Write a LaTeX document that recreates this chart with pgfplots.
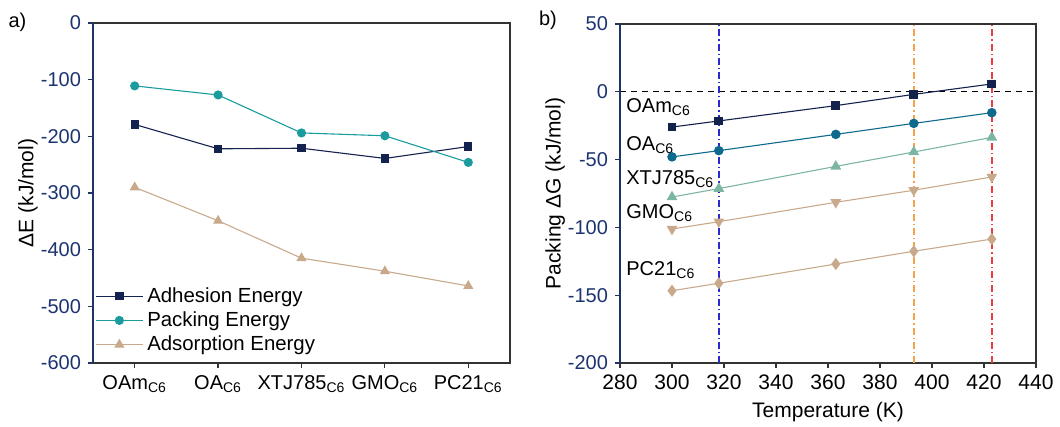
\documentclass[border=0pt]{standalone}
\usepackage{fontspec}
\setmainfont{Liberation Sans}
\usepackage{pgfplots}
\pgfplotsset{compat=1.18}

\definecolor{axgray}{HTML}{333333}
\definecolor{navyax}{HTML}{1F3466}
\definecolor{navytxt}{HTML}{1B3370}
\definecolor{cAdh}{HTML}{14224F}
\definecolor{cPack}{HTML}{1A9C9E}
\definecolor{cAds}{HTML}{C9A98C}
\definecolor{cOAm}{HTML}{13214D}
\definecolor{cOA}{HTML}{0E6A8C}
\definecolor{cXTJ}{HTML}{7DB5A5}
\definecolor{cGMO}{HTML}{C9A98C}
\definecolor{cPC}{HTML}{C9A98C}
\definecolor{vblue}{HTML}{2A2ACF}
\definecolor{vorange}{HTML}{F7A24A}
\definecolor{vred}{HTML}{EE3B3B}

\pgfplotsset{
  panel/.style={
    scale only axis,
    axis line style={draw=axgray, line width=0.6pt},
    tick align=outside,
    xtick pos=left, ytick pos=left,
    major tick length=2.5pt,
    y tick style={navyax, line width=0.6pt},
    x tick style={axgray, line width=0.6pt},
    yticklabel style={navytxt, font=\fontsize{10}{12}\selectfont},
    xticklabel style={black, font=\fontsize{10.5}{12.6}\selectfont},
    /pgf/number format/assume math mode=true,
    label style={font=\fontsize{10.5}{12.6}\selectfont},
    clip=false,
  },
  ser/.style={color=#1, line width=0.55pt, mark options={solid, fill=#1, draw=#1}},
  vline/.style={draw=#1, color=#1, line width=0.7pt, dash pattern=on 3.5pt off 1.5pt on 0.6pt off 1.5pt},
}

\begin{document}
\begin{tikzpicture}
\useasboundingbox (-46.5pt,-32pt) rectangle (483.5pt,181.5pt);

% a) energies per ligand
\begin{axis}[panel,
  at={(0pt,0pt)}, anchor=south west,
  width=208.5pt, height=170pt,
  xmin=-0.5, xmax=4.5, ymin=-600, ymax=0,
  xtick={0,1,2,3,4},
  xticklabels={OAm\textsubscript{C6}, OA\textsubscript{C6}, XTJ785\textsubscript{C6}, GMO\textsubscript{C6}, PC21\textsubscript{C6}},
  xticklabel style={font=\fontsize{10}{12}\selectfont},
  ytick={-600,-500,...,0},
  ylabel={ΔE (kJ/mol)},
  ylabel style={at={(axis description cs:-0.156,0.5)}, anchor=center},
  legend style={at={(0.005,0.015)}, anchor=south west, draw=none, fill=none,
    font=\fontsize{10.2}{12}\selectfont, row sep=-0.8pt, inner sep=0pt},
  legend cell align=left,
  legend image code/.code={
    \draw[mark repeat=2, mark phase=2] plot coordinates {(0cm,0cm) (0.41cm,0cm) (0.82cm,0cm)};},
]
\addplot[ser=cAdh, mark=square*, mark size=1.8pt] coordinates {
  (0,-179) (1,-222) (2,-221) (3,-239) (4,-218)};
\addplot[ser=cPack, mark=*, mark size=2pt] coordinates {
  (0,-111) (1,-127) (2,-194) (3,-199) (4,-246)};
\addplot[ser=cAds, mark=triangle*, mark size=2.4pt] coordinates {
  (0,-290) (1,-349) (2,-415) (3,-438) (4,-464)};
\legend{Adhesion Energy, Packing Energy, Adsorption Energy}
\draw[navyax, line width=0.6pt] (rel axis cs:0,0) -- (rel axis cs:0,1);
\end{axis}
\node[font=\fontsize{10}{12}\selectfont] at (-37.75pt,170.5pt) {a)};

% b) packing free energy vs temperature
\begin{axis}[panel,
  at={(263.5pt,0pt)}, anchor=south west,
  width=208pt, height=169.5pt,
  xmin=280, xmax=440, ymin=-200, ymax=50,
  xtick={280,300,...,440},
  ytick={-200,-150,...,50},
  xlabel={Temperature (K)},
  xlabel style={at={(axis description cs:0.5,-0.145)}, anchor=center},
  ylabel={Packing ΔG (kJ/mol)},
  ylabel style={at={(axis description cs:-0.156,0.5)}, anchor=center},
]
\addplot[black, line width=0.6pt, dash pattern=on 3pt off 2.5pt] coordinates {(280,0) (440,0)};
\addplot[ser=cOAm, mark=square*, mark size=1.9pt] coordinates {
  (300,-26) (318,-21.5) (363,-10.2) (393,-1.9) (423,5.8)};
\addplot[ser=cOA, mark=*, mark size=2.1pt] coordinates {
  (300,-48) (318,-43.4) (363,-31.4) (393,-23.3) (423,-15.4)};
\addplot[ser=cXTJ, mark=triangle*, mark size=2.6pt] coordinates {
  (300,-77.6) (318,-71.4) (363,-55) (393,-44.4) (423,-33.6)};
\addplot[ser=cGMO, mark=triangle*, mark size=2.6pt, mark options={rotate=180}] coordinates {
  (300,-101.2) (318,-95.8) (363,-81.5) (393,-72.6) (423,-62.8)};
\addplot[ser=cPC, mark=diamond*, mark size=2.6pt] coordinates {
  (300,-146.7) (318,-141.2) (363,-127) (393,-117.6) (423,-108.6)};
\addplot[vline=vblue] coordinates {(318,-200) (318,50)};
\addplot[vline=vorange] coordinates {(393,-200) (393,50)};
\addplot[vline=vred] coordinates {(423,-200) (423,50)};
\begin{scope}[font=\fontsize{10}{12}\selectfont]
\node[anchor=base west, inner sep=0pt] at (axis cs:282.3,-15.4) {OAm\textsubscript{C6}};
\node[anchor=base west, inner sep=0pt] at (axis cs:282.3,-43.4) {OA\textsubscript{C6}};
\node[anchor=base west, inner sep=0pt] at (axis cs:282.3,-68.7) {XTJ785\textsubscript{C6}};
\node[anchor=base west, inner sep=0pt] at (axis cs:282.3,-93.3) {GMO\textsubscript{C6}};
\node[anchor=base west, inner sep=0pt] at (axis cs:282.3,-135.8) {PC21\textsubscript{C6}};
\end{scope}
\draw[navyax, line width=0.6pt] (rel axis cs:0,0) -- (rel axis cs:0,1);
\end{axis}
\node[font=\fontsize{10}{12}\selectfont] at (-36pt+263.5pt,171.5pt) {b)};
\end{tikzpicture}
\end{document}
